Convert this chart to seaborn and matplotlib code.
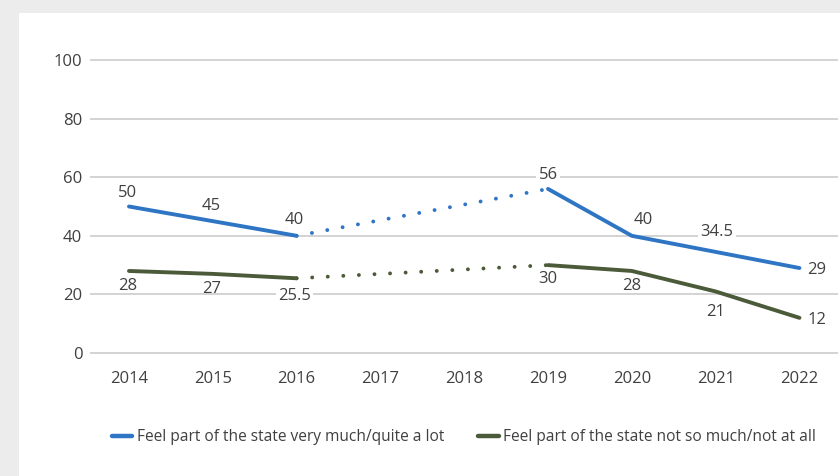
import matplotlib
matplotlib.use("Agg")
import matplotlib.pyplot as plt
from matplotlib.lines import Line2D
from matplotlib.patches import Rectangle
import seaborn as sns
import pandas as pd

# Survey results (share of respondents, %); no survey in 2017 and 2018
years = [2014, 2015, 2016, 2019, 2020, 2021, 2022]
feel_part = [50, 45, 40, 56, 40, 34.5, 29]
not_part = [28, 27, 25.5, 30, 28, 21, 12]
tick_years = [2014, 2015, 2016, 2017, 2018, 2019, 2020, 2021, 2022]
y_ticks = [0, 20, 40, 60, 80, 100]
series_names = ["Feel part of the state very much/quite a lot",
                "Feel part of the state not so much/not at all"]

BLUE = "#2e75c4"
GREEN = "#4b5a38"
TEXT = "#404040"
FS = 12
FS_LEG = 11.2

sns.set_theme(style="white")
plt.rcParams["font.family"] = ["Open Sans", "DejaVu Sans"]

df = pd.DataFrame({
    "year": years * 2,
    "value": feel_part + not_part,
    "series": [series_names[0]] * len(years) + [series_names[1]] * len(years),
})

fig = plt.figure(figsize=(8.4, 4.76), dpi=100, facecolor="#ececec")
fig.patches.append(Rectangle((19 / 840, 0), 1, 1 - 13 / 476, transform=fig.transFigure,
                             facecolor="white", edgecolor="none", zorder=-10))

# axes placed so that y=0..100 spans the plot area with a small margin
px_per_unit = 2.93
y_lo, y_hi = -3, 103
bottom_px = 353 + 3 * px_per_unit
top_px = 60 - 3 * px_per_unit
ax = fig.add_axes([90 / 840, (476 - bottom_px) / 476, (838 - 90) / 840,
                   (bottom_px - top_px) / 476])
ax.set_facecolor("none")

palette = {series_names[0]: BLUE, series_names[1]: GREEN}
lw = 2.8

for name in series_names:
    sub = df[df["series"] == name]
    early = sub[sub["year"] <= 2016]
    late = sub[sub["year"] >= 2019]
    gap = sub[sub["year"].isin([2016, 2019])]
    for part in (early, late):
        sns.lineplot(data=part, x="year", y="value", color=palette[name], lw=lw,
                     ax=ax, legend=False, solid_capstyle="round", zorder=3)
    sns.lineplot(data=gap, x="year", y="value", color=palette[name], lw=lw,
                 ax=ax, legend=False, dashes=False, zorder=3)
    ax.lines[-1].set_linestyle((0, (0.01, 4.0)))
    ax.lines[-1].set_dash_capstyle("round")

# value labels (offsets in points)
blue_off = [(-1, 9.5), (-1, 11), (-2, 11.5), (0, 10), (8, 11.5), (1, 14), (12.5, -1.5)]
green_off = [(-1, -11), (-1, -11), (-1.5, -13), (0, -10), (0, -11), (0, -14.5), (12.5, -1.5)]
boxed = {(series_names[0], 2021), (series_names[1], 2016), (series_names[0], 2019)}

def fmt(v):
    return f"{v:g}"

for name, vals, offs in ((series_names[0], feel_part, blue_off),
                         (series_names[1], not_part, green_off)):
    for yr, v, off in zip(years, vals, offs):
        kw = {}
        if (name, yr) in boxed:
            kw["bbox"] = dict(boxstyle="square,pad=0.15", facecolor="white", edgecolor="none")
        ax.annotate(fmt(v), (yr, v), xytext=off, textcoords="offset points",
                    ha="center", va="center", fontsize=FS, color=TEXT, zorder=4, **kw)

ax.set_xlim(2014 - 0.465, 2014 + 8.46)
ax.set_ylim(y_lo, y_hi)
ax.set_xticks(tick_years)
ax.set_xticklabels([str(t) for t in tick_years])
ax.set_yticks(y_ticks)
ax.yaxis.grid(True, color="#d0d0d0", lw=1.3)
ax.xaxis.grid(False)
ax.set_axisbelow(True)
for s in ax.spines.values():
    s.set_visible(False)
ax.tick_params(axis="both", length=0, labelsize=FS, labelcolor=TEXT)
ax.tick_params(axis="x", pad=6.5)
ax.tick_params(axis="y", pad=5.5)
ax.set_xlabel("")
ax.set_ylabel("")

handles = [Line2D([0], [0], color=BLUE, lw=3.2, solid_capstyle="round"),
           Line2D([0], [0], color=GREEN, lw=3.2, solid_capstyle="round")]
fig.legend(handles, series_names, loc="center", bbox_to_anchor=(464 / 840, 1 - 437 / 476),
           ncol=2, frameon=False, fontsize=FS_LEG, handlelength=1.3, handletextpad=0.3,
           columnspacing=2.2, labelcolor=TEXT)

fig.savefig("out.png", dpi=100, facecolor=fig.get_facecolor())
